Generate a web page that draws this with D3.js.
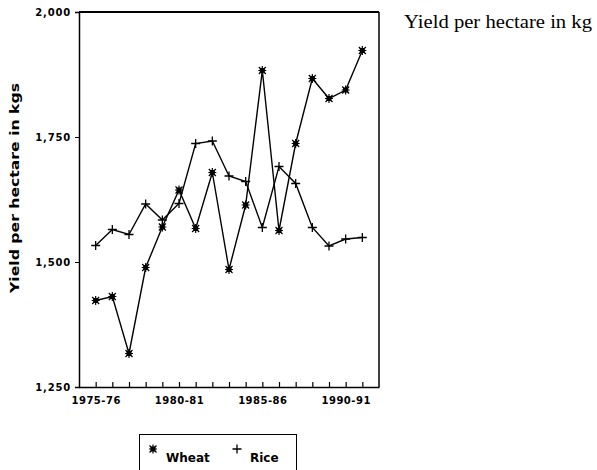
<!DOCTYPE html>
<html><head><meta charset="utf-8">
<script src="https://cdn.jsdelivr.net/npm/d3@7"></script>
<style>
html,body{margin:0;padding:0;background:#fff;}
svg{display:block;}
</style></head>
<body>
<script>
const years = ["1975-76","1976-77","1977-78","1978-79","1979-80","1980-81","1981-82","1982-83","1983-84","1984-85","1985-86","1986-87","1987-88","1988-89","1989-90","1990-91","1991-92"];
const wheat = [1423,1431,1317,1489,1570,1644,1567,1679,1485,1614,1883,1563,1737,1867,1827,1844,1923];
const rice  = [1533,1565,1555,1616,1584,1617,1737,1742,1672,1661,1569,1691,1657,1569,1532,1546,1549];
const yTicks = [1250,1500,1750,2000];
const xLabels = ["1975-76","1980-81","1985-86","1990-91"];
const seriesNames = ["Wheat","Rice"];

const W = 597, H = 470;
const m = {left:79, top:12, right:379, bottom:387};
const svg = d3.select("body").append("svg").attr("width",W).attr("height",H);

const x = d3.scalePoint().domain(years).range([m.left, m.right]).padding(1);
const y = d3.scaleLinear().domain([1250,2000]).range([m.bottom, m.top]);

const sans = "'DejaVu Sans', sans-serif";

// frame
svg.append("line").attr("x1",m.left).attr("x2",m.right).attr("y1",m.top).attr("y2",m.top).attr("stroke","#000").attr("stroke-width",2);
svg.append("line").attr("x1",m.right).attr("x2",m.right).attr("y1",m.top).attr("y2",m.bottom).attr("stroke","#000").attr("stroke-width",1.5);

// y axis
const yAxis = svg.append("g").attr("transform",`translate(${m.left},0)`)
  .call(d3.axisLeft(y).tickValues(yTicks).tickSize(4).tickPadding(4).tickFormat(d3.format(",")));
yAxis.select(".domain").attr("stroke-width",1.5);
yAxis.selectAll("text").attr("font-family",sans).attr("font-weight","bold").attr("font-size",10).attr("letter-spacing","0.8px").attr("fill","#000");

// x axis (ticks inward)
const xAxis = svg.append("g").attr("transform",`translate(0,${m.bottom})`)
  .call(d3.axisBottom(x).tickSize(-5).tickSizeOuter(0).tickPadding(10).tickFormat(d => xLabels.includes(d) ? d : ""));
xAxis.select(".domain").attr("stroke-width",1.5);
xAxis.selectAll("line").attr("stroke-width",1.2);
xAxis.selectAll("text").attr("font-family",sans).attr("font-weight","bold").attr("font-size",10).attr("letter-spacing","0.5px").attr("fill","#000");

// y title
svg.append("text").attr("transform","translate(19,188) rotate(-90)")
  .attr("text-anchor","middle").attr("font-family",sans).attr("font-weight","bold").attr("font-size",12)
  .attr("textLength",210).attr("lengthAdjust","spacingAndGlyphs").text("Yield per hectare in kgs");

// right title
svg.append("text").attr("x",404).attr("y",28).attr("font-family","'Liberation Serif', 'Times New Roman', serif")
  .attr("font-size",18).attr("fill","#000").attr("textLength",188).attr("lengthAdjust","spacingAndGlyphs").text("Yield per hectare in kg");

const line = d3.line().x((d,i)=>x(years[i])).y(d=>y(d));
svg.append("path").datum(wheat).attr("d",line).attr("fill","none").attr("stroke","#000").attr("stroke-width",1.4);
svg.append("path").datum(rice).attr("d",line).attr("fill","none").attr("stroke","#000").attr("stroke-width",1.4);

function wheatMarker(g, cx, cy){
  g.append("rect").attr("x",cx-2.5).attr("y",cy-2.5).attr("width",5).attr("height",5).attr("fill","#000");
  const p = d3.path();
  p.moveTo(cx-4,cy); p.lineTo(cx+4,cy);
  p.moveTo(cx,cy-4.5); p.lineTo(cx,cy+4.5);
  p.moveTo(cx-3.5,cy-3.5); p.lineTo(cx+3.5,cy+3.5);
  p.moveTo(cx-3.5,cy+3.5); p.lineTo(cx+3.5,cy-3.5);
  g.append("path").attr("d",p.toString()).attr("stroke","#000").attr("stroke-width",1.2);
}
function riceMarker(g, cx, cy){
  const p = d3.path();
  p.moveTo(cx-4.5,cy); p.lineTo(cx+4.5,cy);
  p.moveTo(cx,cy-4.5); p.lineTo(cx,cy+4.5);
  g.append("path").attr("d",p.toString()).attr("stroke","#000").attr("stroke-width",1.3);
}
const mg = svg.append("g");
wheat.forEach((v,i)=>wheatMarker(mg, x(years[i]), y(v)));
rice.forEach((v,i)=>riceMarker(mg, x(years[i]), y(v)));

// legend
const lg = svg.append("g");
lg.append("rect").attr("x",139.5).attr("y",434.5).attr("width",157).attr("height",45).attr("fill","none").attr("stroke","#000").attr("stroke-width",1);
wheatMarker(lg, 153, 449);
lg.append("text").attr("x",166).attr("y",462).attr("font-family",sans).attr("font-weight","bold").attr("font-size",12).text(seriesNames[0]);
riceMarker(lg, 237, 449);
lg.append("text").attr("x",250).attr("y",462).attr("font-family",sans).attr("font-weight","bold").attr("font-size",12).text(seriesNames[1]);
</script>
</body></html>
